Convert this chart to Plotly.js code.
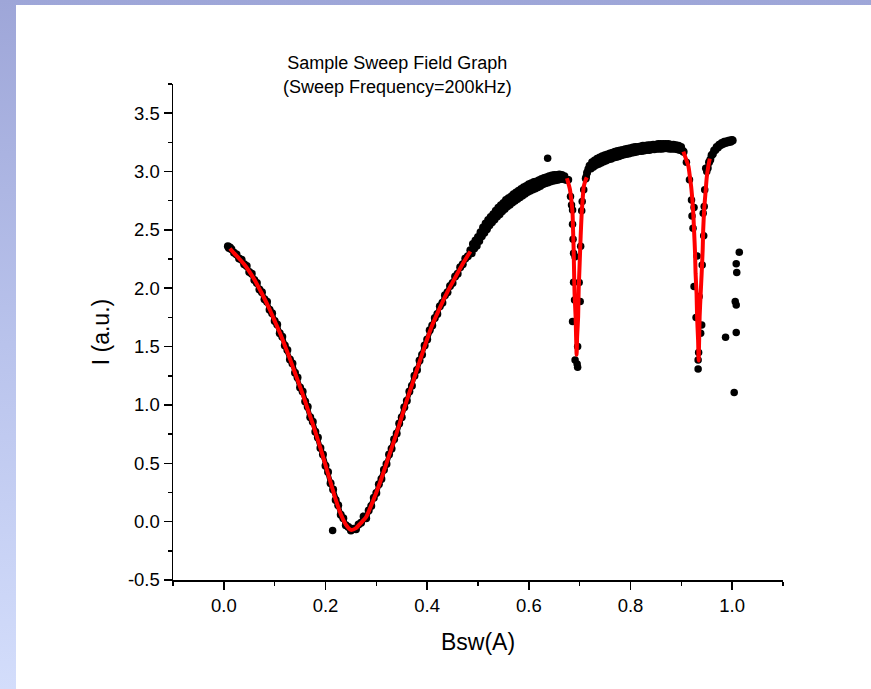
<!DOCTYPE html>
<html>
<head>
<meta charset="utf-8">
<script src="https://cdn.plot.ly/plotly-3.0.1.min.js"></script>
<style>
  html, body { margin:0; padding:0; }
  body { width:871px; height:689px; overflow:hidden; position:relative;
         background: linear-gradient(to bottom, #9ea6d8 0%, #b9c3ec 50%, #d3ddfb 100%); }
  #chart { position:absolute; left:16px; top:5px; width:855px; height:684px; background:#ffffff; }
</style>
</head>
<body>
<div id="chart"></div>
<script>
// ---------------- data ----------------
// dense measured points (segments separated by null)
const bandX = [
  0.008,0.010,0.012,0.015,0.020,0.025,0.030,0.035,0.040,0.045,0.050,0.055,0.060,0.065,0.070,0.075,0.080,0.085,0.090,0.095,
  0.100,0.105,0.110,0.115,0.120,0.125,0.130,0.135,0.140,0.145,0.150,0.155,0.160,0.165,0.170,0.175,0.180,0.185,0.190,0.195,
  0.200,0.205,0.210,0.215,0.220,0.225,0.230,0.235,0.240,0.245,0.250,0.255,0.260,0.265,0.270,0.275,0.280,0.285,0.290,0.295,
  0.300,0.305,0.310,0.315,0.320,0.325,0.330,0.335,0.340,0.345,0.350,0.355,0.360,0.365,0.370,0.375,0.380,0.385,0.390,0.395,
  0.400,0.405,0.410,0.415,0.420,0.425,0.430,0.435,0.440,0.445,0.450,0.455,0.460,0.465,0.470,0.475,0.480,0.485,
  0.4875,0.490,0.4925,0.495,0.4975,0.500,0.5025,0.505,0.5075,0.510,0.5125,0.515,0.5175,0.520,0.5225,0.525,0.5275,0.530,0.5325,0.535,
  0.5375,0.540,0.5425,0.545,0.5475,0.550,0.5525,0.555,0.5575,0.560,0.5625,0.565,0.5675,0.570,0.5725,0.575,0.5775,0.580,0.5825,0.585,
  0.5875,0.590,0.5925,0.595,0.5975,0.600,0.6025,0.605,0.6075,0.610,0.6125,0.615,0.6175,0.620,0.6225,0.625,0.6275,0.630,0.6325,0.635,
  0.6375,0.640,0.6425,0.645,0.6475,0.650,0.6525,0.655,0.6575,0.660,0.6625,0.665,0.6675,0.670,0.6725,0.675,
  null,
  0.712,0.7145,0.717,0.7195,0.722,0.7245,0.727,0.7295,0.732,0.7345,0.737,0.7395,0.742,0.7445,0.747,0.7495,0.752,0.7545,0.757,0.7595,
  0.762,0.7645,0.767,0.7695,0.772,0.7745,0.777,0.7795,0.782,0.7845,0.787,0.7895,0.792,0.7945,0.797,0.7995,0.802,0.8045,0.807,0.8095,
  0.812,0.8145,0.817,0.8195,0.822,0.8245,0.827,0.8295,0.832,0.8345,0.837,0.8395,0.842,0.8445,0.847,0.8495,0.852,0.8545,0.857,0.8595,
  0.862,0.8645,0.867,0.8695,0.872,0.8745,0.877,0.8795,0.882,0.8845,0.887,0.8895,0.892,0.8945,0.897,0.8995,0.902,0.9045,
  null,
  0.952,0.9545,0.957,0.9595,0.962,0.9645,0.967,0.9695,0.972,0.9745,0.977,0.9795,0.982,0.9845,0.987,0.9895,0.992,0.9945,0.997,0.9995,1.001
];
const bandY = [
  2.36,2.345,2.35,2.335,2.305,2.29,2.255,2.245,2.205,2.19,2.14,2.125,2.07,2.045,1.99,1.965,1.905,1.885,1.815,1.785,
  1.72,1.69,1.615,1.585,1.51,1.47,1.39,1.355,1.275,1.235,1.15,1.115,1.03,0.985,0.895,0.855,0.77,0.72,0.63,0.575,
  0.48,0.425,0.33,0.275,0.185,0.14,0.06,0.03,-0.03,-0.045,-0.075,-0.06,-0.065,-0.025,-0.01,0.045,0.03,0.095,0.135,0.205,
  0.245,0.32,0.365,0.445,0.495,0.575,0.625,0.705,0.755,0.84,0.895,0.98,1.035,1.115,1.165,1.25,1.30,1.38,1.43,1.51,
  1.56,1.64,1.68,1.745,1.78,1.845,1.875,1.94,1.965,2.02,2.045,2.10,2.125,2.18,2.205,2.255,2.275,2.325,
  2.30,2.38,2.34,2.41,2.365,2.44,2.405,2.48,2.445,2.52,2.475,2.555,2.505,2.585,2.54,2.61,2.565,2.635,2.59,2.665,
  2.615,2.69,2.635,2.71,2.66,2.73,2.68,2.755,2.70,2.77,2.715,2.785,2.735,2.805,2.75,2.82,2.765,2.835,2.78,2.85,
  2.795,2.865,2.81,2.875,2.825,2.89,2.835,2.90,2.845,2.91,2.855,2.915,2.865,2.925,2.875,2.935,2.89,2.945,2.90,2.95,
  2.905,2.96,2.915,2.965,2.92,2.97,2.925,2.97,2.93,2.975,2.935,2.97,2.935,2.96,2.93,2.93,
  null,
  2.94,2.99,3.02,3.05,3.025,3.08,3.04,3.095,3.055,3.11,3.065,3.12,3.075,3.13,3.085,3.14,3.095,3.145,3.105,3.155,
  3.11,3.16,3.12,3.17,3.125,3.175,3.13,3.18,3.14,3.185,3.145,3.19,3.15,3.195,3.155,3.20,3.16,3.205,3.165,3.21,
  3.17,3.21,3.175,3.215,3.175,3.22,3.18,3.22,3.185,3.225,3.185,3.225,3.19,3.23,3.19,3.23,3.195,3.235,3.195,3.235,
  3.195,3.235,3.20,3.235,3.20,3.235,3.195,3.23,3.195,3.23,3.195,3.225,3.19,3.22,3.185,3.21,3.18,3.17,
  null,
  3.03,3.08,3.10,3.14,3.15,3.18,3.185,3.21,3.205,3.23,3.225,3.245,3.235,3.255,3.245,3.26,3.25,3.265,3.255,3.27,3.265
];
// sparse measured points inside the two narrow dips
const dipX = [0.678,0.682,0.684,0.686,0.686,0.687,0.688,0.691,0.688,0.690,0.686,0.696,0.691,0.695,0.696,0.699,0.701,0.702,0.704,0.705,0.708,0.713,
              0.904,0.910,0.916,0.920,0.921,0.923,0.925,0.925,0.929,0.931,0.933,0.933,0.934,0.935,0.938,0.940,0.941,0.943,0.944,0.945,0.946,0.948,0.950];
const dipY = [2.93,2.786,2.714,2.671,2.549,2.42,2.30,2.27,2.052,1.90,1.714,1.50,1.386,1.35,1.323,2.05,1.886,2.36,2.665,2.743,2.843,2.957,
              3.17,3.08,2.929,2.757,2.62,2.515,2.691,2.014,1.75,2.277,1.386,1.309,1.45,1.929,1.614,1.686,2.20,2.643,2.45,2.70,2.843,3.029,3.0];
// stray points
const strayX = [0.214,0.637,1.014,1.008,1.009,1.006,1.008,0.987,1.008,1.004];
const strayY = [-0.075,3.114,2.309,2.209,2.134,1.886,1.857,1.58,1.62,1.106];
// fitted curve (three fitted segments)
const fitX = [0.012,0.02,0.03,0.04,0.05,0.06,0.07,0.08,0.09,0.10,0.11,0.12,0.13,0.14,0.15,0.16,0.17,0.18,0.19,0.20,
              0.21,0.22,0.23,0.24,0.25,0.26,0.27,0.28,0.29,0.30,0.31,0.32,0.33,0.34,0.35,0.36,0.37,0.38,0.39,0.40,
              0.41,0.42,0.43,0.44,0.45,0.46,0.47,0.48,0.485,
              null,
              0.675,0.679,0.681,0.684,0.686,0.687,0.688,0.689,0.690,0.692,0.693,0.694,0.695,0.697,0.698,0.700,0.702,0.704,0.706,0.708,0.712,0.714,
              null,
              0.904,0.909,0.914,0.917,0.920,0.923,0.925,0.927,0.928,0.930,0.931,0.933,0.934,0.935,0.936,0.938,0.940,0.942,0.943,0.945,0.948,0.950,0.953,0.956];
const fitY = [2.34,2.30,2.255,2.205,2.145,2.075,1.995,1.91,1.82,1.72,1.62,1.51,1.395,1.275,1.155,1.03,0.90,0.77,0.63,0.485,
              0.335,0.19,0.065,-0.025,-0.07,-0.055,-0.01,0.04,0.14,0.25,0.37,0.50,0.63,0.76,0.90,1.04,1.17,1.305,1.435,1.565,
              1.685,1.785,1.88,1.97,2.05,2.13,2.21,2.28,2.315,
              null,
              2.943,2.88,2.843,2.74,2.643,2.50,2.357,2.15,1.95,1.757,1.58,1.43,1.58,1.757,1.98,2.215,2.45,2.643,2.77,2.871,2.93,2.95,
              null,
              3.171,3.11,3.043,2.95,2.843,2.68,2.5,2.3,2.129,1.95,1.757,1.55,1.38,1.55,1.757,1.95,2.129,2.33,2.5,2.68,2.843,2.95,3.043,3.11];
// ticks
const xTickVals = [0, 0.2, 0.4, 0.6, 0.8, 1.0];
const xTickText = ['0.0','0.2','0.4','0.6','0.8','1.0'];
const yTickVals = [-0.5, 0, 0.5, 1.0, 1.5, 2.0, 2.5, 3.0, 3.5];
const yTickText = ['-0.5','0.0','0.5','1.0','1.5','2.0','2.5','3.0','3.5'];

// ---------------- chart ----------------
const FONT = 'Arial, "Liberation Sans", sans-serif';
const traces = [
  { x: bandX, y: bandY, type: 'scatter', mode: 'lines+markers', connectgaps: false,
    line: { color: '#000', width: 5 }, marker: { color: '#000', size: 8 }, hoverinfo: 'skip' },
  { x: dipX, y: dipY, type: 'scatter', mode: 'markers',
    marker: { color: '#000', size: 7.5 }, hoverinfo: 'skip' },
  { x: strayX, y: strayY, type: 'scatter', mode: 'markers',
    marker: { color: '#000', size: 7.5 }, hoverinfo: 'skip' },
  { x: fitX, y: fitY, type: 'scatter', mode: 'lines', connectgaps: false,
    line: { color: '#ff0000', width: 4, shape: 'spline', smoothing: 0.6 }, hoverinfo: 'skip' }
];
function axisBase() {
  return {
    showline: true, linecolor: '#000', linewidth: 1.5, mirror: false,
    showgrid: false, zeroline: false,
    ticks: 'outside', ticklen: 8, tickwidth: 1.5, tickcolor: '#000',
    tickfont: { family: FONT, size: 18.5, color: '#000' },
    automargin: false
  };
}
const layout = {
  width: 855, height: 684,
  margin: { l: 157, r: 88, t: 79, b: 109 },
  paper_bgcolor: '#ffffff', plot_bgcolor: '#ffffff',
  showlegend: false,
  font: { family: FONT, size: 18, color: '#000' },
  title: {
    text: 'Sample Sweep Field Graph<br>(Sweep Frequency=200kHz)',
    font: { family: FONT, size: 18, color: '#000' },
    xref: 'container', x: 0.446, xanchor: 'center',
    yref: 'container', y: 0.906, yanchor: 'top'
  },
  xaxis: Object.assign(axisBase(), {
    range: [-0.1, 1.1], tickmode: 'array', tickvals: xTickVals, ticktext: xTickText,
    minor: { dtick: 0.1, tick0: 0, ticks: 'outside', ticklen: 4, tickwidth: 1.5, tickcolor: '#000' },
    title: { text: 'Bsw(A)', font: { family: FONT, size: 23, color: '#000' }, standoff: 19 }
  }),
  yaxis: Object.assign(axisBase(), {
    range: [-0.5, 3.75], tickmode: 'array', tickvals: yTickVals, ticktext: yTickText,
    minor: { dtick: 0.25, tick0: 0, ticks: 'outside', ticklen: 4, tickwidth: 1.5, tickcolor: '#000' },
    title: { text: 'I (a.u.)', font: { family: FONT, size: 23, color: '#000' }, standoff: 12 }
  })
};
Plotly.newPlot('chart', traces, layout, { staticPlot: true, displayModeBar: false });
</script>
</body>
</html>
